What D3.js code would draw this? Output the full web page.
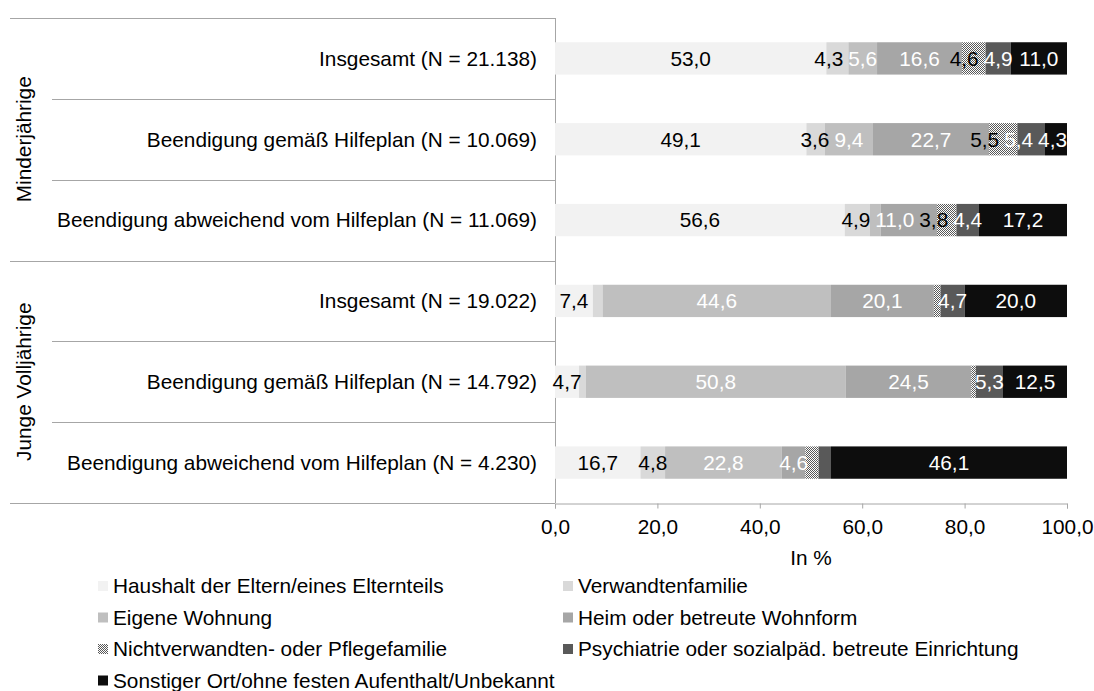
<!DOCTYPE html>
<html lang="de">

    <head>
        <meta charset="UTF-8">
        <title>Aufenthalt nach Beendigung der Hilfe</title>
        <script src="https://d3js.org/d3.v7.min.js"></script>
    </head>

    <style>
        body {
            margin: 0;
            background: #fff;
        }

        text {
            font-family: "Liberation Sans", Arial, sans-serif;
            font-size: 20.8px;
            fill: #000;
        }

        .grid line, .grid path {
            stroke: #a6a6a6;
            stroke-width: 1px;
        }
    </style>

    <body>

        <svg width="1094" height="691"></svg>

        <script>

            // Zeilen (von oben nach unten)
            var rows = [
                "Insgesamt (N = 21.138)",
                "Beendigung gemäß Hilfeplan (N = 10.069)",
                "Beendigung abweichend vom Hilfeplan (N = 11.069)",
                "Insgesamt (N = 19.022)",
                "Beendigung gemäß Hilfeplan (N = 14.792)",
                "Beendigung abweichend vom Hilfeplan (N = 4.230)"
            ];
            var groups = ["Minderjährige", "Junge Volljährige"];
            var groupOf = [0, 0, 0, 1, 1, 1];

            // Werte in %
            var haushalt   = [53.0, 49.1, 56.6,  7.4,  4.7, 16.7];
            var verwandten = [ 4.3,  3.6,  4.9,  1.9,  1.3,  4.8];
            var eigene     = [ 5.6,  9.4,  2.1, 44.6, 50.8, 22.8];
            var heim       = [16.6, 22.7, 11.0, 20.1, 24.5,  4.6];
            var pflege     = [ 4.6,  5.5,  3.8,  1.3,  0.9,  2.6];
            var psych      = [ 4.9,  5.4,  4.4,  4.7,  5.3,  2.4];
            var sonstiger  = [11.0,  4.3, 17.2, 20.0, 12.5, 46.1];

            var seriesNames = [
                "Haushalt der Eltern/eines Elternteils",
                "Verwandtenfamilie",
                "Eigene Wohnung",
                "Heim oder betreute Wohnform",
                "Nichtverwandten- oder Pflegefamilie",
                "Psychiatrie oder sozialpäd. betreute Einrichtung",
                "Sonstiger Ort/ohne festen Aufenthalt/Unbekannt"
            ];
            var seriesValues = [haushalt, verwandten, eigene, heim, pflege, psych, sonstiger];
            var xTicks = [0, 20, 40, 60, 80, 100];

            var fills = ["#f2f2f2", "#d9d9d9", "#bfbfbf", "#a6a6a6", "url(#checker)", "#595959", "#0d0d0d"];
            var labelColors = ["#000", "#000", "#fff", "#fff", "#000", "#fff", "#fff"];

            var svg = d3.select("svg");

            // Schachbrettmuster fuer Pflegefamilie
            var pat = svg.append("defs").append("pattern")
                .attr("id", "checker")
                .attr("patternUnits", "userSpaceOnUse")
                .attr("width", 2).attr("height", 2);
            pat.append("rect").attr("width", 2).attr("height", 2).attr("fill", "#fff");
            pat.append("rect").attr("width", 1).attr("height", 1).attr("fill", "#595959");
            pat.append("rect").attr("x", 1).attr("y", 1).attr("width", 1).attr("height", 1).attr("fill", "#595959");

            var table = rows.map(function(r, i) {
                var o = {row: r};
                seriesNames.forEach(function(s, j) { o[s] = seriesValues[j][i]; });
                return o;
            });

            var stacked = d3.stack().keys(seriesNames)(table);

            var x = d3.scaleLinear()
                .domain([0, 100])
                .range([555, 1067]);

            var y = d3.scaleBand()
                .domain(rows)
                .range([18, 503])
                .paddingInner(0.6)
                .paddingOuter(0.3);

            var de = d3.formatLocale({decimal: ",", thousands: ".", grouping: [3], currency: ["", " €"]});
            var fmt = de.format(".1f");

            // Linien der Kategorienachse
            var grid = svg.append("g").attr("class", "grid");
            var step = y.step();
            rows.forEach(function(r, i) {
                var top = y(r) - y.paddingOuter() * step;
                var left = (i === 0 || groupOf[i] !== groupOf[i - 1]) ? 10 : 52;
                grid.append("line")
                    .attr("x1", left).attr("x2", 555)
                    .attr("y1", Math.round(top) + 0.5).attr("y2", Math.round(top) + 0.5);
            });
            grid.append("line")
                .attr("x1", 10).attr("x2", 555)
                .attr("y1", 503.5).attr("y2", 503.5);
            grid.append("line")
                .attr("x1", 555.5).attr("x2", 555.5)
                .attr("y1", 18).attr("y2", 503);

            // Balken
            var layer = svg.append("g")
                .selectAll("g")
                .data(stacked)
                .enter().append("g")
                .attr("fill", function(d, i) { return fills[i]; });

            layer.selectAll("rect")
                .data(function(d) { return d; })
                .enter().append("rect")
                .attr("x", function(d) { return x(d[0]); })
                .attr("width", function(d) { return x(d[1]) - x(d[0]); })
                .attr("y", function(d) { return y(d.data.row); })
                .attr("height", y.bandwidth());

            // Datenbeschriftung (kleine Werte ohne Beschriftung)
            var labelGroup = svg.append("g");
            stacked.forEach(function(s, i) {
                labelGroup.selectAll("text.s" + i)
                    .data(s.filter(function(d) { return d[1] - d[0] >= 3; }))
                    .enter().append("text")
                    .attr("class", "lbl s" + i)
                    .attr("x", function(d) { return (x(d[0]) + x(d[1])) / 2; })
                    .attr("y", function(d) { return y(d.data.row) + y.bandwidth() / 2; })
                    .attr("dy", "0.35em")
                    .attr("text-anchor", "middle")
                    .style("fill", labelColors[i])
                    .text(function(d) { return fmt(d.data[s.key]); });
            });

            // zu enge Beschriftungen von rechts nach links auseinanderschieben
            rows.forEach(function(r) {
                var items = labelGroup.selectAll("text.lbl")
                    .filter(function(d) { return d.data.row === r; })
                    .nodes()
                    .sort(function(a, b) { return +a.getAttribute("x") - +b.getAttribute("x"); });
                var limit = x.range()[1];
                for (var k = items.length - 1; k >= 0; k--) {
                    var cx = +items[k].getAttribute("x");
                    var w = items[k].getComputedTextLength();
                    if (cx + w / 2 > limit) cx = limit - w / 2;
                    items[k].setAttribute("x", cx);
                    limit = cx - w / 2 - 5;
                }
            });

            // Zeilenbeschriftung
            svg.append("g")
                .selectAll("text")
                .data(rows)
                .enter().append("text")
                .attr("x", 537)
                .attr("y", function(d) { return y(d) + y.bandwidth() / 2; })
                .attr("dy", "0.35em")
                .attr("text-anchor", "end")
                .text(function(d) { return d; });

            // Gruppenbeschriftung (gedreht)
            groups.forEach(function(g, k) {
                var members = rows.filter(function(r, i) { return groupOf[i] === k; });
                var cy = (y(members[0]) + y(members[members.length - 1]) + y.bandwidth()) / 2;
                svg.append("text")
                    .attr("transform", "translate(24," + cy + ") rotate(-90)")
                    .attr("dy", "0.35em")
                    .attr("text-anchor", "middle")
                    .text(g);
            });

            // x-Achse
            var xAxis = svg.append("g")
                .attr("class", "grid")
                .attr("transform", "translate(0,503.5)")
                .call(d3.axisBottom(x).tickValues(xTicks).tickFormat(fmt).tickSize(5).tickSizeOuter(5).tickPadding(11));
            xAxis.selectAll("text").style("font-size", "20.8px").style("fill", "#000")
                .style("font-family", "'Liberation Sans', Arial, sans-serif");

            svg.append("text")
                .attr("x", (x.range()[0] + x.range()[1]) / 2)
                .attr("y", 558)
                .attr("dy", "0.35em")
                .attr("text-anchor", "middle")
                .text("In %");

            // Legende
            var legend = svg.append("g");
            seriesNames.forEach(function(s, i) {
                var col = i % 2, row = Math.floor(i / 2);
                var lx = col === 0 ? 98 : 563;
                var ly = 586 + row * 31.5;
                legend.append("rect")
                    .attr("x", lx).attr("y", ly - 5)
                    .attr("width", 10).attr("height", 10)
                    .attr("fill", fills[i]);
                legend.append("text")
                    .attr("x", lx + 15).attr("y", ly)
                    .attr("dy", "0.35em")
                    .text(s);
            });

        </script>
    </body>
</html>
